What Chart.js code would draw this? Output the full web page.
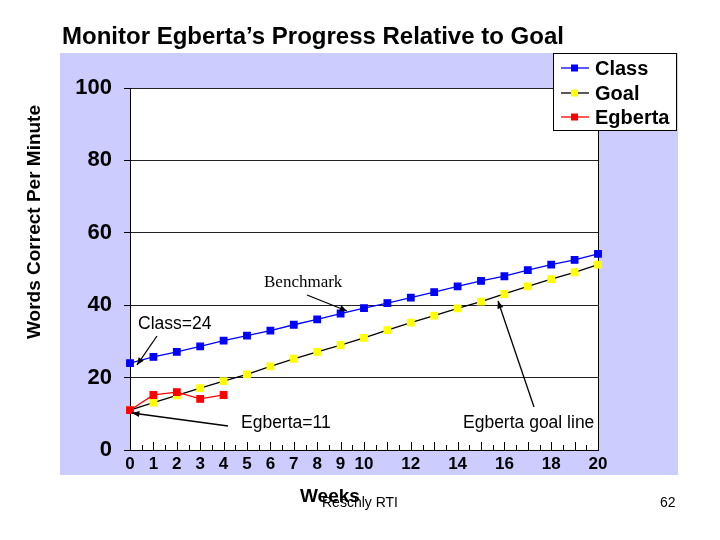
<!DOCTYPE html>
<html>
<head>
<meta charset="utf-8">
<script src="https://cdn.jsdelivr.net/npm/chart.js@4/dist/chart.umd.min.js"></script>
<style>
  html, body { margin: 0; padding: 0; background: #fff; }
  #wrap { width: 720px; height: 540px; }
</style>
</head>
<body>
<div id="wrap"><canvas id="progressChart" width="720" height="540"></canvas></div>
<script>
// weeks on the x axis
const weeks = [0, 1, 2, 3, 4, 5, 6, 7, 8, 9, 10, 11, 12, 13, 14, 15, 16, 17, 18, 19, 20];
const hiddenWeekLabels = [11, 13, 15, 17, 19];
const yTicks = [0, 20, 40, 60, 80, 100];

// words correct per minute
const classValues = [24, 25.7, 27.1, 28.6, 30.2, 31.6, 33, 34.6, 36.1, 37.7, 39.2,
                     40.6, 42.1, 43.6, 45.2, 46.7, 48, 49.7, 51.2, 52.5, 54.2];
const goalValues = [11, 13.1, 15.1, 17.1, 19, 20.9, 23.1, 25.2, 27.1, 29, 31,
                    33.1, 35.2, 37.1, 39.1, 41, 43.1, 45.2, 47.2, 49.1, 51.2];
const egbertaValues = [11, 15.2, 16, 14.1, 15.2];

const seriesNames = ['Class', 'Goal', 'Egberta'];

function toPoints(values) {
    return values.map((v, i) => ({ x: weeks[i], y: v }));
}

// lavender panel, plot box, inward x ticks
const framePlugin = {
    id: 'frame',
    beforeDraw(chart) {
        const c = chart.ctx;
        const a = chart.chartArea;
        c.save();
        c.fillStyle = '#ccccff';
        c.fillRect(60, 53, 618, 422);
        c.fillStyle = '#ffffff';
        c.fillRect(a.left, a.top, a.right - a.left, a.bottom - a.top);
        c.restore();
    },
    beforeDatasetsDraw(chart) {
        const c = chart.ctx;
        const a = chart.chartArea;
        const xs = chart.scales.x;
        c.save();
        c.strokeStyle = '#000';
        c.lineWidth = 1;
        c.beginPath();
        c.moveTo(a.right + 0.5, a.top);
        c.lineTo(a.right + 0.5, a.bottom);
        for (let w = 0; w <= 20; w += 0.5) {
            const px = Math.round(xs.getPixelForValue(w)) + 0.5;
            const len = (w % 1 === 0) ? 8 : 5;
            c.moveTo(px, a.bottom);
            c.lineTo(px, a.bottom - len);
        }
        c.stroke();
        c.restore();
    }
};

function arrow(c, x1, y1, x2, y2) {
    const ang = Math.atan2(y2 - y1, x2 - x1);
    c.beginPath();
    c.moveTo(x1, y1);
    c.lineTo(x2, y2);
    c.stroke();
    c.beginPath();
    c.moveTo(x2, y2);
    c.lineTo(x2 - 8 * Math.cos(ang - 0.4), y2 - 8 * Math.sin(ang - 0.4));
    c.lineTo(x2 - 8 * Math.cos(ang + 0.4), y2 - 8 * Math.sin(ang + 0.4));
    c.closePath();
    c.fill();
}

// titles, notes, legend
const textPlugin = {
    id: 'texts',
    afterDraw(chart) {
        const c = chart.ctx;
        c.save();
        c.fillStyle = '#000';
        c.strokeStyle = '#000';
        c.textBaseline = 'middle';

        c.font = 'bold 24px "Liberation Sans", Arial, sans-serif';
        c.textAlign = 'left';
        c.fillText('Monitor Egberta\u2019s Progress Relative to Goal', 62, 37);

        c.save();
        c.translate(35, 222);
        c.rotate(-Math.PI / 2);
        c.textAlign = 'center';
        c.font = 'bold 19px "Liberation Sans", Arial, sans-serif';
        c.fillText('Words Correct Per Minute', 0, 0);
        c.restore();

        c.textAlign = 'left';
        c.font = 'bold 19px "Liberation Sans", Arial, sans-serif';
        c.fillText('Weeks', 300, 497);
        c.font = '14px "Liberation Sans", Arial, sans-serif';
        c.fillText('Reschly RTI', 322, 503);
        c.fillText('62', 660, 503);

        // notes with arrows
        c.font = '17px "Liberation Serif", "Times New Roman", serif';
        c.fillText('Benchmark', 264, 283);
        c.font = '17.5px "Liberation Sans", Arial, sans-serif';
        c.fillText('Class=24', 138, 324);
        c.fillText('Egberta=11', 241, 423);
        c.fillText('Egberta goal line', 463, 423);
        c.lineWidth = 1.3;
        arrow(c, 307, 295, 347, 311);
        arrow(c, 157, 336, 137, 365);
        arrow(c, 228, 426, 132, 413);
        arrow(c, 534, 407, 498, 301);

        // legend
        c.fillStyle = '#fff';
        c.fillRect(553, 53, 123, 77);
        c.lineWidth = 1;
        c.strokeStyle = '#000';
        c.strokeRect(553.5, 53.5, 123, 77);
        const rows = [68, 93, 117];
        chart.data.datasets.forEach((ds, i) => {
            const y = rows[i];
            c.strokeStyle = ds.borderColor;
            c.lineWidth = 1.3;
            c.beginPath();
            c.moveTo(561, y);
            c.lineTo(589, y);
            c.stroke();
            c.fillStyle = ds.pointBackgroundColor;
            c.fillRect(571, y - 3.5, 7, 7);
            c.fillStyle = '#000';
            c.font = 'bold 20px "Liberation Sans", Arial, sans-serif';
            c.textAlign = 'left';
            c.fillText(ds.label, 595, y + 1);
        });
        c.restore();
    }
};

new Chart(document.getElementById('progressChart'), {
    type: 'line',
    data: {
        datasets: [
            {
                label: seriesNames[0],
                data: toPoints(classValues),
                borderColor: '#0000ff',
                pointBackgroundColor: '#0000ff',
                pointBorderColor: '#0000ff',
                borderWidth: 1.3,
                pointStyle: 'rect',
                pointRadius: 4.6,
                clip: false,
                order: 2
            },
            {
                label: seriesNames[1],
                data: toPoints(goalValues),
                borderColor: '#000000',
                pointBackgroundColor: '#ffff00',
                pointBorderColor: '#ffff00',
                borderWidth: 1.3,
                pointStyle: 'rect',
                pointRadius: 4.6,
                clip: false,
                order: 1
            },
            {
                label: seriesNames[2],
                data: toPoints(egbertaValues),
                borderColor: '#ff0000',
                pointBackgroundColor: '#ff0000',
                pointBorderColor: '#ff0000',
                borderWidth: 1.3,
                pointStyle: 'rect',
                pointRadius: 4.6,
                clip: false,
                order: 0
            }
        ]
    },
    options: {
        responsive: false,
        animation: false,
        devicePixelRatio: 1,
        layout: { padding: { left: 20, top: 88, right: 122, bottom: 30 } },
        plugins: {
            legend: { display: false },
            tooltip: { enabled: false }
        },
        scales: {
            x: {
                type: 'linear',
                min: weeks[0],
                max: weeks[weeks.length - 1],
                afterFit(scale) { scale.height = 60; },
                grid: { display: false, drawTicks: false },
                border: { display: true, color: '#000', width: 1 },
                ticks: {
                    stepSize: 1,
                    autoSkip: false,
                    maxRotation: 0,
                    padding: 4,
                    color: '#000',
                    font: { family: '"Liberation Sans", Arial, sans-serif', size: 17, weight: 'bold' },
                    callback: (v) => hiddenWeekLabels.includes(v) ? '' : String(v)
                }
            },
            y: {
                min: yTicks[0],
                max: yTicks[yTicks.length - 1],
                afterFit(scale) { scale.width = 110; },
                afterBuildTicks(scale) { scale.ticks = yTicks.map(v => ({ value: v })); },
                grid: { color: '#222', lineWidth: 1, drawTicks: true, tickLength: 6, tickColor: '#000' },
                border: { display: true, color: '#000', width: 1 },
                ticks: {
                    padding: 12,
                    color: '#000',
                    font: { family: '"Liberation Sans", Arial, sans-serif', size: 22, weight: 'bold' }
                }
            }
        }
    },
    plugins: [framePlugin, textPlugin]
});
</script>
</body>
</html>
